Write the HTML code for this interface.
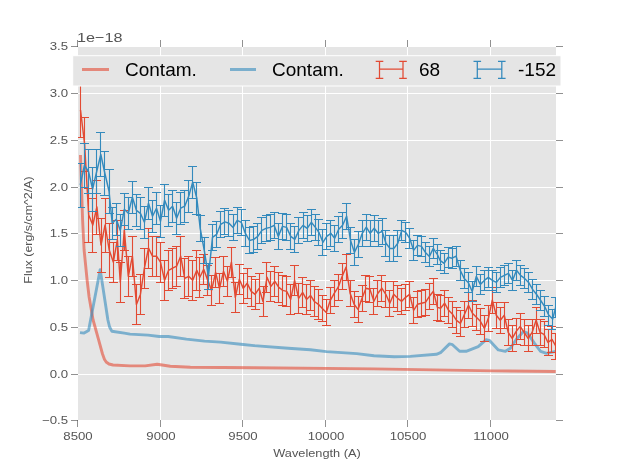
<!DOCTYPE html>
<html><head><meta charset="utf-8"><style>
html,body{margin:0;padding:0;background:#fff;}
body{width:617px;height:467px;position:relative;overflow:hidden;font-family:"Liberation Sans",sans-serif;}
.t{filter:grayscale(1);}
.xl{position:absolute;top:429.5px;width:60px;text-align:center;font-size:11px;color:#555;line-height:12px;transform:scaleX(1.2);}
.yl{position:absolute;left:20px;width:48px;text-align:right;font-size:11px;color:#555;line-height:14px;transform:scaleX(1.2);transform-origin:100% 50%;}
.lt{position:absolute;top:59px;font-size:19px;color:#000;line-height:22px;}
</style></head><body>
<svg width="617" height="467" viewBox="0 0 617 467" style="position:absolute;left:0;top:0">
<defs><clipPath id="c"><rect x="78" y="47" width="478" height="373"/></clipPath></defs>
<rect x="78" y="47" width="478" height="373" fill="#E5E5E5"/>
<path d="M160.5 47V420M242.5 47V420M325.5 47V420M407.5 47V420M490.5 47V420M78 374.5H556M78 327.5H556M78 280.5H556M78 233.5H556M78 187.5H556M78 140.5H556M78 93.5H556" stroke="#fff" stroke-width="1" fill="none"/>
<g clip-path="url(#c)">
<polyline points="80.5,155.0 81.5,187.0 82.6,220.0 84.1,250.0 87.1,280.0 89.1,297.0 93.1,320.0 98.7,340.1 102.5,354.0 104.5,359.5 106.5,362.3 109.0,364.0 113.0,365.0 130.0,365.9 145.1,365.9 157.2,364.3 170.3,366.3 190.4,367.3 254.0,367.7 374.0,368.9 494.0,370.9 555.7,371.5" stroke="#E24A33" stroke-width="2.9" fill="none" stroke-linejoin="round" stroke-opacity="0.6"/>
<polyline points="80.0,332.6 84.1,333.1 88.6,330.6 100.2,269.6 107.9,320.0 109.6,327.0 111.8,331.2 124.3,333.1 130.0,334.1 148.1,335.1 159.2,336.5 168.2,336.5 186.4,339.1 204.5,341.1 220.6,342.1 240.7,344.2 254.0,345.6 288.2,348.2 310.4,349.8 326.5,351.6 356.7,353.6 374.0,355.8 394.2,356.8 410.3,356.4 436.4,354.3 440.5,352.7 449.5,343.9 452.5,344.7 459.6,351.3 466.1,351.3 478.2,346.7 486.2,339.7 489.3,340.3 498.3,349.9 505.4,351.3 510.4,348.3 516.4,339.3 523.5,331.6 527.5,333.2 534.5,343.3 540.6,351.3 546.6,353.3 555.7,351.3" stroke="#348ABD" stroke-width="2.9" fill="none" stroke-linejoin="round" stroke-opacity="0.6"/>
<path d="M80.5 83.5V137.5M76.0 83.5H85.0M76.0 137.5H85.0M84.5 117.5V171.5M80.0 117.5H89.0M80.0 171.5H89.0M88.5 188.5V242.5M84.0 188.5H93.0M84.0 242.5H93.0M92.5 198.5V252.5M88.0 198.5H97.0M88.0 252.5H97.0M96.5 180.5V234.5M92.0 180.5H101.0M92.0 234.5H101.0M101.5 218.5V272.5M97.0 218.5H106.0M97.0 272.5H106.0M105.5 198.5V252.5M101.0 198.5H110.0M101.0 252.5H110.0M109.5 223.5V277.5M105.0 223.5H114.0M105.0 277.5H114.0M113.5 242.5V282.5M109.0 242.5H118.0M109.0 282.5H118.0M117.5 220.5V260.5M113.0 220.5H122.0M113.0 260.5H122.0M120.5 262.5V302.5M116.0 262.5H125.0M116.0 302.5H125.0M124.5 210.5V250.5M120.0 210.5H129.0M120.0 250.5H129.0M128.5 256.5V296.5M124.0 256.5H133.0M124.0 296.5H133.0M132.5 236.5V276.5M128.0 236.5H137.0M128.0 276.5H137.0M136.5 284.5V324.5M132.0 284.5H141.0M132.0 324.5H141.0M140.5 274.5V314.5M136.0 274.5H145.0M136.0 314.5H145.0M144.5 248.5V288.5M140.0 248.5H149.0M140.0 288.5H149.0M148.5 228.5V268.5M144.0 228.5H153.0M144.0 268.5H153.0M152.5 236.5V276.5M148.0 236.5H157.0M148.0 276.5H157.0M156.5 236.5V276.5M152.0 236.5H161.0M152.0 276.5H161.0M160.5 242.5V282.5M156.0 242.5H165.0M156.0 282.5H165.0M164.5 260.5V300.5M160.0 260.5H169.0M160.0 300.5H169.0M168.5 250.5V290.5M164.0 250.5H173.0M164.0 290.5H173.0M172.5 248.5V288.5M168.0 248.5H177.0M168.0 288.5H177.0M176.5 246.5V286.5M172.0 246.5H181.0M172.0 286.5H181.0M180.5 236.5V276.5M176.0 236.5H185.0M176.0 276.5H185.0M184.5 258.5V298.5M180.0 258.5H189.0M180.0 298.5H189.0M188.5 256.5V296.5M184.0 256.5H193.0M184.0 296.5H193.0M192.5 260.5V300.5M188.0 260.5H197.0M188.0 300.5H197.0M196.5 250.5V290.5M192.0 250.5H201.0M192.0 290.5H201.0M199.5 257.5V297.5M195.0 257.5H204.0M195.0 297.5H204.0M203.5 254.5V284.5M199.0 254.5H208.0M199.0 284.5H208.0M207.5 265.5V295.5M203.0 265.5H212.0M203.0 295.5H212.0M211.5 275.5V305.5M207.0 275.5H216.0M207.0 305.5H216.0M215.5 257.5V287.5M211.0 257.5H220.0M211.0 287.5H220.0M219.5 273.5V303.5M215.0 273.5H224.0M215.0 303.5H224.0M223.5 256.5V286.5M219.0 256.5H228.0M219.0 286.5H228.0M227.5 266.5V296.5M223.0 266.5H232.0M223.0 296.5H232.0M231.5 247.5V277.5M227.0 247.5H236.0M227.0 277.5H236.0M235.5 282.5V312.5M231.0 282.5H240.0M231.0 312.5H240.0M239.5 264.5V294.5M235.0 264.5H244.0M235.0 294.5H244.0M243.5 273.5V303.5M239.0 273.5H248.0M239.0 303.5H248.0M247.5 268.5V298.5M243.0 268.5H252.0M243.0 298.5H252.0M251.5 276.5V306.5M247.0 276.5H256.0M247.0 306.5H256.0M255.5 279.5V309.5M251.0 279.5H260.0M251.0 309.5H260.0M259.5 273.5V303.5M255.0 273.5H264.0M255.0 303.5H264.0M263.5 286.5V316.5M259.0 286.5H268.0M259.0 316.5H268.0M266.5 262.5V292.5M262.0 262.5H271.0M262.0 292.5H271.0M270.5 271.5V301.5M266.0 271.5H275.0M266.0 301.5H275.0M274.5 266.5V296.5M270.0 266.5H279.0M270.0 296.5H279.0M278.5 272.5V302.5M274.0 272.5H283.0M274.0 302.5H283.0M282.5 275.5V305.5M278.0 275.5H287.0M278.0 305.5H287.0M286.5 276.5V306.5M282.0 276.5H291.0M282.0 306.5H291.0M290.5 284.5V314.5M286.0 284.5H295.0M286.0 314.5H295.0M294.5 265.5V295.5M290.0 265.5H299.0M290.0 295.5H299.0M298.5 283.5V313.5M294.0 283.5H303.0M294.0 313.5H303.0M302.5 277.5V307.5M298.0 277.5H307.0M298.0 307.5H307.0M306.5 284.5V314.5M302.0 284.5H311.0M302.0 314.5H311.0M310.5 280.5V310.5M306.0 280.5H315.0M306.0 310.5H315.0M314.5 286.5V316.5M310.0 286.5H319.0M310.0 316.5H319.0M318.5 289.5V319.5M314.0 289.5H323.0M314.0 319.5H323.0M322.5 295.5V321.5M318.0 295.5H327.0M318.0 321.5H327.0M326.5 299.5V325.5M322.0 299.5H331.0M322.0 325.5H331.0M330.5 287.5V313.5M326.0 287.5H335.0M326.0 313.5H335.0M334.5 280.5V306.5M330.0 280.5H339.0M330.0 306.5H339.0M338.5 274.5V300.5M334.0 274.5H343.0M334.0 300.5H343.0M342.5 263.5V289.5M338.0 263.5H347.0M338.0 289.5H347.0M346.5 254.5V280.5M342.0 254.5H351.0M342.0 280.5H351.0M350.5 280.5V306.5M346.0 280.5H355.0M346.0 306.5H355.0M354.5 291.5V317.5M350.0 291.5H359.0M350.0 317.5H359.0M358.5 296.5V322.5M354.0 296.5H363.0M354.0 322.5H363.0M362.5 285.5V311.5M358.0 285.5H367.0M358.0 311.5H367.0M365.5 275.5V301.5M361.0 275.5H370.0M361.0 301.5H370.0M369.5 276.5V302.5M365.0 276.5H374.0M365.0 302.5H374.0M373.5 288.5V314.5M369.0 288.5H378.0M369.0 314.5H378.0M377.5 280.5V306.5M373.0 280.5H382.0M373.0 306.5H382.0M381.5 275.5V301.5M377.0 275.5H386.0M377.0 301.5H386.0M385.5 281.5V307.5M381.0 281.5H390.0M381.0 307.5H390.0M389.5 290.5V316.5M385.0 290.5H394.0M385.0 316.5H394.0M393.5 281.5V307.5M389.0 281.5H398.0M389.0 307.5H398.0M397.5 285.5V311.5M393.0 285.5H402.0M393.0 311.5H402.0M401.5 288.5V314.5M397.0 288.5H406.0M397.0 314.5H406.0M405.5 284.5V310.5M401.0 284.5H410.0M401.0 310.5H410.0M409.5 281.5V307.5M405.0 281.5H414.0M405.0 307.5H414.0M413.5 297.5V323.5M409.0 297.5H418.0M409.0 323.5H418.0M417.5 291.5V317.5M413.0 291.5H422.0M413.0 317.5H422.0M421.5 290.5V316.5M417.0 290.5H426.0M417.0 316.5H426.0M425.5 289.5V315.5M421.0 289.5H430.0M421.0 315.5H430.0M429.5 283.5V309.5M425.0 283.5H434.0M425.0 309.5H434.0M433.5 278.5V304.5M429.0 278.5H438.0M429.0 304.5H438.0M437.5 294.5V320.5M433.0 294.5H442.0M433.0 320.5H442.0M440.5 295.5V321.5M436.0 295.5H445.0M436.0 321.5H445.0M444.5 290.5V316.5M440.0 290.5H449.0M440.0 316.5H449.0M448.5 297.5V323.5M444.0 297.5H453.0M444.0 323.5H453.0M452.5 301.5V327.5M448.0 301.5H457.0M448.0 327.5H457.0M456.5 307.5V333.5M452.0 307.5H461.0M452.0 333.5H461.0M460.5 310.5V336.5M456.0 310.5H465.0M456.0 336.5H465.0M464.5 301.5V327.5M460.0 301.5H469.0M460.0 327.5H469.0M468.5 292.5V318.5M464.0 292.5H473.0M464.0 318.5H473.0M472.5 300.5V326.5M468.0 300.5H477.0M468.0 326.5H477.0M476.5 304.5V330.5M472.0 304.5H481.0M472.0 330.5H481.0M480.5 308.5V334.5M476.0 308.5H485.0M476.0 334.5H485.0M484.5 315.5V341.5M480.0 315.5H489.0M480.0 341.5H489.0M488.5 305.5V331.5M484.0 305.5H493.0M484.0 331.5H493.0M492.5 287.5V313.5M488.0 287.5H497.0M488.0 313.5H497.0M496.5 302.5V328.5M492.0 302.5H501.0M492.0 328.5H501.0M500.5 307.5V333.5M496.0 307.5H505.0M496.0 333.5H505.0M504.5 302.5V328.5M500.0 302.5H509.0M500.0 328.5H509.0M508.5 319.5V345.5M504.0 319.5H513.0M504.0 345.5H513.0M512.5 325.5V351.5M508.0 325.5H517.0M508.0 351.5H517.0M516.5 318.5V344.5M512.0 318.5H521.0M512.0 344.5H521.0M520.5 313.5V339.5M516.0 313.5H525.0M516.0 339.5H525.0M524.5 319.5V345.5M520.0 319.5H529.0M520.0 345.5H529.0M528.5 325.5V351.5M524.0 325.5H533.0M524.0 351.5H533.0M532.5 319.5V345.5M528.0 319.5H537.0M528.0 345.5H537.0M536.5 307.5V333.5M532.0 307.5H541.0M532.0 333.5H541.0M540.5 319.5V345.5M536.0 319.5H545.0M536.0 345.5H545.0M544.5 321.5V347.5M540.0 321.5H549.0M540.0 347.5H549.0M548.5 329.5V355.5M544.0 329.5H553.0M544.0 355.5H553.0M551.5 326.5V352.5M547.0 326.5H556.0M547.0 352.5H556.0M555.5 333.5V359.5M551.0 333.5H560.0M551.0 359.5H560.0" stroke="#E24A33" stroke-width="1.1" fill="none"/><polyline points="80.5,110.0 84.6,144.0 88.7,215.0 92.8,225.0 96.9,207.0 101.0,245.0 105.1,225.0 109.2,250.0 113.3,262.0 117.4,240.0 120.3,282.3 124.3,230.0 128.3,276.3 132.4,256.2 136.4,304.5 140.4,294.4 144.4,268.2 148.5,248.1 152.5,256.2 156.5,256.2 160.5,262.2 164.6,280.3 168.6,270.3 172.6,268.2 176.6,266.2 180.7,256.2 184.7,278.3 188.7,276.3 192.7,280.3 196.8,270.3 199.8,277.3 203.7,269.3 207.7,280.3 211.6,290.4 215.6,272.3 219.5,288.4 223.5,271.3 227.4,281.3 231.4,262.2 235.3,297.4 239.3,279.3 243.3,288.4 247.2,283.3 251.2,291.4 255.1,294.4 259.1,288.4 263.0,301.5 267.0,277.3 270.9,286.4 274.9,281.3 278.8,287.4 282.8,290.4 286.7,291.4 290.7,299.4 294.6,280.3 298.6,298.4 302.6,292.4 306.5,299.4 310.5,295.4 314.4,301.5 318.4,304.3 322.3,308.4 326.3,312.4 330.3,300.3 334.2,293.3 338.2,287.2 342.2,276.2 346.1,267.1 350.1,293.3 354.1,304.3 358.0,309.4 362.0,298.3 366.0,288.2 369.9,289.3 373.9,301.3 377.9,293.3 381.8,288.2 385.8,294.3 389.8,303.3 393.7,294.3 397.7,298.3 401.7,301.3 405.6,297.3 409.6,294.3 413.6,310.4 417.5,304.3 421.5,303.3 425.5,302.3 429.4,296.3 433.4,291.3 437.4,307.4 440.6,308.2 444.6,303.2 448.6,310.3 452.6,314.3 456.5,320.3 460.5,323.3 464.5,314.3 468.5,305.2 472.4,313.3 476.4,317.3 480.4,321.3 484.4,328.4 488.4,318.3 492.3,300.2 496.3,315.3 500.3,320.3 504.3,315.3 508.2,332.4 512.2,338.4 516.2,331.4 520.2,326.4 524.1,332.4 528.1,338.4 532.1,332.4 536.1,320.3 540.1,332.4 544.0,334.4 548.0,342.5 552.0,339.4 556.0,346.5" stroke="#E24A33" stroke-width="1.45" fill="none" stroke-linejoin="round"/>
<path d="M80.5 163.5V207.5M76.0 163.5H85.0M76.0 207.5H85.0M84.5 143.5V187.5M80.0 143.5H89.0M80.0 187.5H89.0M88.5 149.5V193.5M84.0 149.5H93.0M84.0 193.5H93.0M92.5 167.5V211.5M88.0 167.5H97.0M88.0 211.5H97.0M96.5 149.5V193.5M92.0 149.5H101.0M92.0 193.5H101.0M100.5 132.5V176.5M96.0 132.5H105.0M96.0 176.5H105.0M104.5 151.5V195.5M100.0 151.5H109.0M100.0 195.5H109.0M109.5 169.5V213.5M105.0 169.5H114.0M105.0 213.5H114.0M112.5 207.5V239.5M108.0 207.5H117.0M108.0 239.5H117.0M116.5 203.5V235.5M112.0 203.5H121.0M112.0 235.5H121.0M120.5 214.5V246.5M116.0 214.5H125.0M116.0 246.5H125.0M124.5 193.5V225.5M120.0 193.5H129.0M120.0 225.5H129.0M128.5 197.5V229.5M124.0 197.5H133.0M124.0 229.5H133.0M132.5 181.5V213.5M128.0 181.5H137.0M128.0 213.5H137.0M136.5 194.5V226.5M132.0 194.5H141.0M132.0 226.5H141.0M140.5 197.5V229.5M136.0 197.5H145.0M136.0 229.5H145.0M144.5 206.5V238.5M140.0 206.5H149.0M140.0 238.5H149.0M148.5 187.5V219.5M144.0 187.5H153.0M144.0 219.5H153.0M152.5 200.5V232.5M148.0 200.5H157.0M148.0 232.5H157.0M156.5 192.5V224.5M152.0 192.5H161.0M152.0 224.5H161.0M160.5 205.5V237.5M156.0 205.5H165.0M156.0 237.5H165.0M164.5 184.5V216.5M160.0 184.5H169.0M160.0 216.5H169.0M168.5 194.5V226.5M164.0 194.5H173.0M164.0 226.5H173.0M172.5 190.5V222.5M168.0 190.5H177.0M168.0 222.5H177.0M176.5 202.5V234.5M172.0 202.5H181.0M172.0 234.5H181.0M180.5 192.5V224.5M176.0 192.5H185.0M176.0 224.5H185.0M184.5 190.5V222.5M180.0 190.5H189.0M180.0 222.5H189.0M188.5 180.5V212.5M184.0 180.5H193.0M184.0 212.5H193.0M192.5 166.5V198.5M188.0 166.5H197.0M188.0 198.5H197.0M196.5 182.5V214.5M192.0 182.5H201.0M192.0 214.5H201.0M200.5 215.5V241.5M196.0 215.5H205.0M196.0 241.5H205.0M204.5 237.5V263.5M200.0 237.5H209.0M200.0 263.5H209.0M208.5 263.5V289.5M204.0 263.5H213.0M204.0 289.5H213.0M212.5 224.5V250.5M208.0 224.5H217.0M208.0 250.5H217.0M216.5 221.5V247.5M212.0 221.5H221.0M212.0 247.5H221.0M220.5 211.5V237.5M216.0 211.5H225.0M216.0 237.5H225.0M224.5 208.5V234.5M220.0 208.5H229.0M220.0 234.5H229.0M228.5 210.5V236.5M224.0 210.5H233.0M224.0 236.5H233.0M233.5 214.5V240.5M229.0 214.5H238.0M229.0 240.5H238.0M237.5 207.5V233.5M233.0 207.5H242.0M233.0 233.5H242.0M241.5 209.5V235.5M237.0 209.5H246.0M237.0 235.5H246.0M245.5 220.5V246.5M241.0 220.5H250.0M241.0 246.5H250.0M249.5 227.5V253.5M245.0 227.5H254.0M245.0 253.5H254.0M253.5 226.5V252.5M249.0 226.5H258.0M249.0 252.5H258.0M257.5 223.5V249.5M253.0 223.5H262.0M253.0 249.5H262.0M261.5 217.5V243.5M257.0 217.5H266.0M257.0 243.5H266.0M266.5 215.5V241.5M262.0 215.5H271.0M262.0 241.5H271.0M270.5 214.5V240.5M266.0 214.5H275.0M266.0 240.5H275.0M274.5 212.5V238.5M270.0 212.5H279.0M270.0 238.5H279.0M278.5 223.5V249.5M274.0 223.5H283.0M274.0 249.5H283.0M282.5 213.5V239.5M278.0 213.5H287.0M278.0 239.5H287.0M286.5 214.5V240.5M282.0 214.5H291.0M282.0 240.5H291.0M290.5 223.5V249.5M286.0 223.5H295.0M286.0 249.5H295.0M294.5 226.5V252.5M290.0 226.5H299.0M290.0 252.5H299.0M298.5 217.5V243.5M294.0 217.5H303.0M294.0 243.5H303.0M303.5 212.5V238.5M299.0 212.5H308.0M299.0 238.5H308.0M307.5 215.5V241.5M303.0 215.5H312.0M303.0 241.5H312.0M311.5 209.5V235.5M307.0 209.5H316.0M307.0 235.5H316.0M315.5 214.5V240.5M311.0 214.5H320.0M311.0 240.5H320.0M318.5 219.5V245.5M314.0 219.5H323.0M314.0 245.5H323.0M322.5 229.5V255.5M318.0 229.5H327.0M318.0 255.5H327.0M326.5 223.5V249.5M322.0 223.5H331.0M322.0 249.5H331.0M330.5 220.5V246.5M326.0 220.5H335.0M326.0 246.5H335.0M334.5 225.5V251.5M330.0 225.5H339.0M330.0 251.5H339.0M338.5 216.5V242.5M334.0 216.5H343.0M334.0 242.5H343.0M342.5 212.5V238.5M338.0 212.5H347.0M338.0 238.5H347.0M346.5 203.5V229.5M342.0 203.5H351.0M342.0 229.5H351.0M350.5 227.5V253.5M346.0 227.5H355.0M346.0 253.5H355.0M354.5 239.5V265.5M350.0 239.5H359.0M350.0 265.5H359.0M358.5 231.5V257.5M354.0 231.5H363.0M354.0 257.5H363.0M362.5 220.5V246.5M358.0 220.5H367.0M358.0 246.5H367.0M366.5 214.5V240.5M362.0 214.5H371.0M362.0 240.5H371.0M370.5 220.5V246.5M366.0 220.5H375.0M366.0 246.5H375.0M374.5 215.5V241.5M370.0 215.5H379.0M370.0 241.5H379.0M378.5 220.5V246.5M374.0 220.5H383.0M374.0 246.5H383.0M382.5 218.5V244.5M378.0 218.5H387.0M378.0 244.5H387.0M385.5 230.5V256.5M381.0 230.5H390.0M381.0 256.5H390.0M389.5 235.5V261.5M385.0 235.5H394.0M385.0 261.5H394.0M393.5 235.5V261.5M389.0 235.5H398.0M389.0 261.5H398.0M397.5 230.5V256.5M393.0 230.5H402.0M393.0 256.5H402.0M401.5 220.5V240.5M397.0 220.5H406.0M397.0 240.5H406.0M405.5 222.5V242.5M401.0 222.5H410.0M401.0 242.5H410.0M409.5 228.5V248.5M405.0 228.5H414.0M405.0 248.5H414.0M413.5 240.5V260.5M409.0 240.5H418.0M409.0 260.5H418.0M417.5 235.5V255.5M413.0 235.5H422.0M413.0 255.5H422.0M421.5 236.5V256.5M417.0 236.5H426.0M417.0 256.5H426.0M425.5 242.5V262.5M421.0 242.5H430.0M421.0 262.5H430.0M429.5 246.5V266.5M425.0 246.5H434.0M425.0 266.5H434.0M433.5 238.5V258.5M429.0 238.5H438.0M429.0 258.5H438.0M437.5 244.5V264.5M433.0 244.5H442.0M433.0 264.5H442.0M440.5 250.5V270.5M436.0 250.5H445.0M436.0 270.5H445.0M444.5 253.5V273.5M440.0 253.5H449.0M440.0 273.5H449.0M448.5 247.5V267.5M444.0 247.5H453.0M444.0 267.5H453.0M452.5 248.5V268.5M448.0 248.5H457.0M448.0 268.5H457.0M456.5 246.5V266.5M452.0 246.5H461.0M452.0 266.5H461.0M460.5 260.5V280.5M456.0 260.5H465.0M456.0 280.5H465.0M464.5 268.5V288.5M460.0 268.5H469.0M460.0 288.5H469.0M468.5 272.5V292.5M464.0 272.5H473.0M464.0 292.5H473.0M472.5 281.5V301.5M468.0 281.5H477.0M468.0 301.5H477.0M476.5 266.5V286.5M472.0 266.5H481.0M472.0 286.5H481.0M480.5 274.5V294.5M476.0 274.5H485.0M476.0 294.5H485.0M484.5 270.5V290.5M480.0 270.5H489.0M480.0 290.5H489.0M488.5 267.5V287.5M484.0 267.5H493.0M484.0 287.5H493.0M492.5 270.5V290.5M488.0 270.5H497.0M488.0 290.5H497.0M496.5 272.5V292.5M492.0 272.5H501.0M492.0 292.5H501.0M500.5 267.5V287.5M496.0 267.5H505.0M496.0 287.5H505.0M504.5 265.5V285.5M500.0 265.5H509.0M500.0 285.5H509.0M508.5 263.5V283.5M504.0 263.5H513.0M504.0 283.5H513.0M512.5 270.5V290.5M508.0 270.5H517.0M508.0 290.5H517.0M516.5 260.5V280.5M512.0 260.5H521.0M512.0 280.5H521.0M520.5 265.5V285.5M516.0 265.5H525.0M516.0 285.5H525.0M524.5 268.5V288.5M520.0 268.5H529.0M520.0 288.5H529.0M528.5 272.5V292.5M524.0 272.5H533.0M524.0 292.5H533.0M532.5 279.5V299.5M528.0 279.5H537.0M528.0 299.5H537.0M536.5 284.5V304.5M532.0 284.5H541.0M532.0 304.5H541.0M540.5 290.5V310.5M536.0 290.5H545.0M536.0 310.5H545.0M544.5 296.5V316.5M540.0 296.5H549.0M540.0 316.5H549.0M548.5 305.5V325.5M544.0 305.5H553.0M544.0 325.5H553.0M552.5 309.5V329.5M548.0 309.5H557.0M548.0 329.5H557.0M555.5 297.5V317.5M551.0 297.5H560.0M551.0 317.5H560.0" stroke="#348ABD" stroke-width="1.1" fill="none"/><polyline points="80.3,185.0 84.4,165.5 88.5,171.5 92.6,189.0 96.7,171.5 100.8,154.5 104.9,173.5 109.0,191.0 112.2,223.3 116.3,219.3 120.3,230.4 124.3,209.3 128.3,213.3 132.4,197.2 136.4,210.3 140.4,213.3 144.4,222.3 148.5,203.2 152.5,216.3 156.5,208.2 160.5,221.3 164.6,200.2 168.6,210.3 172.6,206.2 176.6,218.3 180.7,208.2 184.7,206.2 188.7,196.2 192.7,182.1 196.8,198.2 200.2,228.4 204.3,250.5 208.4,276.7 212.5,237.4 216.6,234.4 220.7,224.3 224.9,221.9 229.0,223.3 233.1,227.4 237.2,220.3 241.3,222.3 245.4,233.4 249.5,240.5 253.7,239.4 257.8,236.4 261.9,230.4 266.0,228.4 270.1,227.4 274.2,225.4 278.3,236.4 282.5,226.4 286.6,227.4 290.7,236.4 294.8,239.4 298.9,230.4 303.0,225.4 307.2,228.4 311.3,222.3 315.4,227.4 318.9,232.3 322.9,242.3 326.8,236.3 330.8,233.3 334.7,238.3 338.7,229.3 342.6,225.2 346.6,216.2 350.5,240.3 354.4,252.4 358.4,244.3 362.3,233.3 366.3,227.2 370.2,233.3 374.2,228.2 378.1,233.3 382.1,231.3 386.0,243.3 389.9,248.4 393.9,248.4 397.8,243.3 401.8,230.3 405.7,232.3 409.7,238.3 413.6,250.4 417.5,245.4 421.5,246.4 425.4,252.4 429.4,256.4 433.3,248.4 437.3,254.4 440.0,260.3 444.1,263.3 448.1,257.2 452.1,258.2 456.1,256.2 460.2,270.3 464.2,278.4 468.2,282.4 472.2,291.5 476.3,276.4 480.3,284.4 484.3,280.4 488.3,277.4 492.4,280.4 496.4,282.4 500.4,277.4 504.4,275.4 508.5,273.3 512.5,280.4 516.5,270.3 520.5,275.4 524.6,278.4 528.6,282.4 532.6,289.4 536.6,294.5 540.7,300.5 544.7,306.6 548.7,315.0 552.7,319.0 555.8,307.0" stroke="#348ABD" stroke-width="1.45" fill="none" stroke-linejoin="round"/>
</g>
<path d="M77.5 420V427M77.5 40V47M160.5 420V427M160.5 40V47M242.5 420V427M242.5 40V47M325.5 420V427M325.5 40V47M407.5 420V427M407.5 40V47M490.5 420V427M490.5 40V47M71 420.5H78M556 420.5H563M71 374.5H78M556 374.5H563M71 327.5H78M556 327.5H563M71 280.5H78M556 280.5H563M71 233.5H78M556 233.5H563M71 187.5H78M556 187.5H563M71 140.5H78M556 140.5H563M71 93.5H78M556 93.5H563M71 46.5H78M556 46.5H563" stroke="#555" stroke-width="0.65" fill="none"/>
<rect x="72.7" y="55.7" width="488.3" height="30.3" fill="#E5E5E5" stroke="#fff" stroke-width="1"/>
<path d="M82 69.5H109" stroke="#E24A33" stroke-opacity="0.6" stroke-width="3"/>
<path d="M230 69.5H256" stroke="#348ABD" stroke-opacity="0.6" stroke-width="3"/>
<path d="M379.5 61.4V78.3M403 61.4V78.3M379.5 69.2H403M375.7 61.4h7.6M375.7 78.3h7.6M399.2 61.4h7.6M399.2 78.3h7.6" stroke="#E24A33" stroke-width="1.25"/>
<path d="M477.3 61.4V78.3M501.8 61.4V78.3M477.3 69.2H501.8M473.5 61.4h7.6M473.5 78.3h7.6M498 61.4h7.6M498 78.3h7.6" stroke="#348ABD" stroke-width="1.25"/>
</svg>
<div class="t"><div class="xl" style="left:47.5px">8500</div><div class="xl" style="left:130.5px">9000</div><div class="xl" style="left:212.5px">9500</div><div class="xl" style="left:295.5px">10000</div><div class="xl" style="left:377.5px">10500</div><div class="xl" style="left:460.5px">11000</div><div class="yl" style="top:413.0px">&#8722;0.5</div><div class="yl" style="top:367.0px">0.0</div><div class="yl" style="top:320.0px">0.5</div><div class="yl" style="top:273.0px">1.0</div><div class="yl" style="top:226.0px">1.5</div><div class="yl" style="top:180.0px">2.0</div><div class="yl" style="top:133.0px">2.5</div><div class="yl" style="top:86.0px">3.0</div><div class="yl" style="top:39.0px">3.5</div>
<div style="position:absolute;left:77px;top:29.5px;font-size:13.5px;color:#555;line-height:16px;transform:scaleX(1.2);transform-origin:0 50%;">1e&#8722;18</div>
<div style="position:absolute;left:242px;top:446px;width:150px;text-align:center;font-size:11px;color:#555;line-height:14px;transform:scaleX(1.16);">Wavelength (A)</div>
<div style="position:absolute;left:-27px;top:223px;width:110px;text-align:center;font-size:11px;color:#555;line-height:14px;transform:rotate(-90deg) scaleX(1.13);">Flux (erg/s/cm^2/A)</div>
<div class="lt" style="left:125px">Contam.</div>
<div class="lt" style="left:272px">Contam.</div>
<div class="lt" style="left:419px">68</div>
<div class="lt" style="left:518px">-152</div></div>
</body></html>
